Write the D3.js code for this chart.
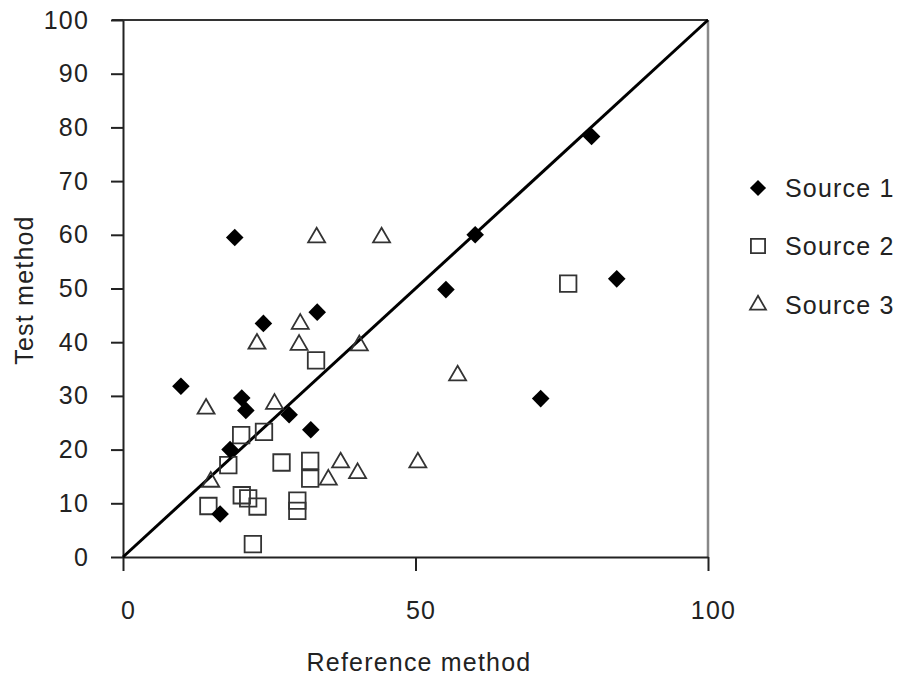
<!DOCTYPE html>
<html>
<head>
<meta charset="utf-8">
<script src="https://cdn.jsdelivr.net/npm/d3@7/dist/d3.min.js"></script>
<style>
  html, body { margin: 0; padding: 0; background: #fff; }
  svg { display: block; }
  text { font-family: "Liberation Sans", Arial, sans-serif; fill: #222; letter-spacing: 1.2px; }
</style>
</head>
<body>
<svg id="chart" width="898" height="682"></svg>
<script>
// ---- Data ----
const seriesNames = ["Source 1", "Source 2", "Source 3"];
const source1 = [
  [19.1, 59.5], [9.9, 31.8], [24.0, 43.5], [33.2, 45.6], [20.3, 29.6],
  [21.0, 27.3], [28.4, 26.5], [32.1, 23.7], [18.3, 20.0], [16.6, 8.0],
  [80.1, 78.3], [60.2, 60.0], [55.2, 49.8], [84.4, 51.8], [71.4, 29.5]
];
const source2 = [
  [33.0, 36.6], [20.2, 22.7], [24.1, 23.3], [18.0, 17.1], [27.1, 17.6],
  [32.0, 17.9], [32.0, 14.6], [14.6, 9.5], [20.3, 11.5], [21.4, 10.9],
  [23.0, 9.4], [29.8, 10.5], [29.8, 8.6], [22.2, 2.4], [76.1, 50.9]
];
const source3 = [
  [33.1, 59.5], [44.2, 59.5], [30.3, 43.4], [22.9, 39.7], [30.1, 39.5],
  [40.4, 39.4], [14.2, 27.6], [25.9, 28.5], [15.0, 14.0], [37.2, 17.6],
  [35.1, 14.4], [40.1, 15.6], [50.4, 17.6], [57.2, 33.8]
];
const identityLine = [[0, 0], [100, 100]];
const xTicks = [0, 50, 100];
const yTicks = [0, 10, 20, 30, 40, 50, 60, 70, 80, 90, 100];
const xTitle = "Reference method";
const yTitle = "Test method";

// ---- Layout ----
const svg = d3.select("#chart");
const x = d3.scaleLinear().domain([0, 100]).range([123, 708]);
const y = d3.scaleLinear().domain([0, 100]).range([557, 20]);
const FS = 25;

// frame: top and right
svg.append("line").attr("x1", 112).attr("x2", x(100)).attr("y1", y(100)).attr("y2", y(100))
  .attr("stroke", "#333").attr("stroke-width", 2);
svg.append("line").attr("x1", x(100)).attr("x2", x(100)).attr("y1", y(100)).attr("y2", y(0))
  .attr("stroke", "#888").attr("stroke-width", 2.5);

// y axis
const yAxis = svg.append("g").attr("transform", `translate(${x(0)},0)`)
  .call(d3.axisLeft(y).tickValues(yTicks).tickSize(12).tickSizeOuter(0).tickPadding(22));
yAxis.selectAll("path").attr("stroke", "#222").attr("stroke-width", 2);
yAxis.selectAll("line").attr("stroke", "#222").attr("stroke-width", 2);
yAxis.selectAll("text").style("font-size", FS + "px").style("font-family", "Liberation Sans, Arial, sans-serif").attr("fill", "#222");

// x axis
const xAxis = svg.append("g").attr("transform", `translate(0,${y(0)})`)
  .call(d3.axisBottom(x).tickValues(xTicks).tickSize(14).tickSizeOuter(0).tickPadding(30));
xAxis.selectAll("path").attr("stroke", "#222").attr("stroke-width", 2);
xAxis.selectAll("line").attr("stroke", "#222").attr("stroke-width", 2);
xAxis.selectAll("text").style("font-size", FS + "px").style("font-family", "Liberation Sans, Arial, sans-serif").attr("fill", "#222")
  .attr("dx", "5");

// titles
svg.append("text").attr("x", 419).attr("y", 671).attr("text-anchor", "middle")
  .style("font-size", FS + "px").text(xTitle);
svg.append("text").attr("transform", "translate(33,290) rotate(-90)").attr("text-anchor", "middle")
  .style("font-size", FS + "px").text(yTitle);

// identity line
svg.append("path").datum(identityLine)
  .attr("d", d3.line().x(d => x(d[0])).y(d => y(d[1])))
  .attr("stroke", "#000").attr("stroke-width", 3).attr("fill", "none");

// symbols
const diamondPath = d3.symbol().type(d3.symbolSquare).size(155)();
const squarePath = d3.symbol().type(d3.symbolSquare).size(272)();
const trianglePath = d3.symbol().type(d3.symbolTriangle).size(125)();

function drawDiamonds(g, data) {
  g.selectAll("path.s1").data(data).join("path").attr("class", "s1")
    .attr("d", diamondPath)
    .attr("transform", d => `translate(${x(d[0])},${y(d[1])}) rotate(45)`)
    .attr("fill", "#000");
}
function drawSquares(g, data) {
  g.selectAll("path.s2").data(data).join("path").attr("class", "s2")
    .attr("d", squarePath)
    .attr("transform", d => `translate(${x(d[0])},${y(d[1])})`)
    .attr("fill", "none").attr("stroke", "#333").attr("stroke-width", 1.8);
}
function drawTriangles(g, data) {
  g.selectAll("path.s3").data(data).join("path").attr("class", "s3")
    .attr("d", trianglePath)
    .attr("transform", d => `translate(${x(d[0])},${y(d[1])})`)
    .attr("fill", "none").attr("stroke", "#333").attr("stroke-width", 1.8);
}
drawTriangles(svg.append("g"), source3);
drawSquares(svg.append("g"), source2);
drawDiamonds(svg.append("g"), source1);

// legend
const legendY = [188, 246, 305];
const lg = svg.append("g");
lg.append("path").attr("d", d3.symbol().type(d3.symbolSquare).size(130)())
  .attr("transform", `translate(758,${legendY[0]}) rotate(45)`).attr("fill", "#000");
lg.append("path").attr("d", d3.symbol().type(d3.symbolSquare).size(200)())
  .attr("transform", `translate(758,${legendY[1]})`).attr("fill", "none").attr("stroke", "#333").attr("stroke-width", 1.8);
lg.append("path").attr("d", d3.symbol().type(d3.symbolTriangle).size(110)())
  .attr("transform", `translate(758,${legendY[2]})`).attr("fill", "none").attr("stroke", "#333").attr("stroke-width", 1.8);
lg.selectAll("text").data(seriesNames).join("text")
  .attr("x", 785).attr("y", (d, i) => legendY[i]).attr("dy", "0.36em")
  .style("font-size", FS + "px").text(d => d);
</script>
</body>
</html>
